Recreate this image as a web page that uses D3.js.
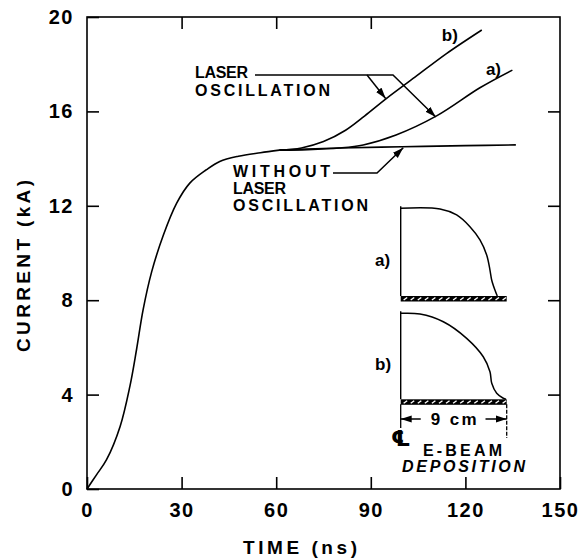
<!DOCTYPE html>
<meta charset="utf-8">
<body style="margin:0;background:#fff">
<script src="https://d3js.org/d3.v7.min.js"></script>
<script>

// main rise of the current, then the branch without laser oscillation
var riseTime    = [0, 3, 6.2, 10.5, 13.6, 15.7, 17.8, 20.5, 24.2, 28.4, 32.6, 37.9, 42.1, 48, 55, 61];
var riseCurrent = [0, 0.6, 1.24, 2.65, 4.35, 5.9, 7.6, 9.2, 10.75, 12.1, 12.96, 13.53, 13.88, 14.1, 14.25, 14.36];

var flatTime    = [61, 80, 100, 120, 136];
var flatCurrent = [14.36, 14.45, 14.5, 14.55, 14.58];

// with laser oscillation, cases a) and b)
var aTime    = [61, 70, 80, 87.6, 98, 111, 124.6, 134.9];
var aCurrent = [14.36, 14.38, 14.45, 14.58, 15.0, 15.82, 17.0, 17.75];

var bTime    = [61, 68, 75, 82, 88, 95, 104, 114, 125.2];
var bCurrent = [14.36, 14.45, 14.72, 15.2, 15.8, 16.55, 17.45, 18.45, 19.45];

// inset: e-beam deposition profiles vs radius (cm), normalised
var depA_r = [0, 3.34, 4.75, 5.88, 6.73, 7.3, 7.58, 7.73, 8.0, 8.2];
var depA_v = [1, 0.992, 0.924, 0.79, 0.639, 0.467, 0.296, 0.18, 0.068, 0];
var depB_r = [0, 1.64, 3.62, 5.6, 7.01, 7.58, 7.73, 8.15, 8.71, 8.94];
var depB_v = [1, 0.992, 0.902, 0.709, 0.495, 0.321, 0.186, 0.07, 0.012, 0];

var xTicks = [0, 30, 60, 90, 120, 150];
var yTicks = [0, 4, 8, 12, 16, 20];

var width = 581, height = 559;
var font = "'Liberation Sans', Arial, sans-serif";

var svg = d3.select("body").append("svg")
    .attr("width", width)
    .attr("height", height)
    .style("font-family", font);

var x = d3.scaleLinear().domain([0, 150]).range([87, 560]);
var y = d3.scaleLinear().domain([0, 20]).range([489, 17]);

// inset scales
var xr = d3.scaleLinear().domain([0, 9]).range([400.7, 506.7]);
var yA = d3.scaleLinear().domain([0, 1]).range([296, 208.3]);
var yB = d3.scaleLinear().domain([0, 1]).range([399.3, 313.3]);

svg.append("defs").append("marker")
    .attr("id", "arr")
    .attr("markerUnits", "userSpaceOnUse")
    .attr("markerWidth", 12).attr("markerHeight", 8)
    .attr("refX", 11).attr("refY", 4)
    .attr("orient", "auto")
  .append("path")
    .attr("d", "M0,0.5 L11,4 L0,7.5 Z")
    .attr("fill", "#000");

// frame
svg.append("rect")
    .attr("x", x(0)).attr("y", y(20))
    .attr("width", x(150) - x(0)).attr("height", y(0) - y(20))
    .attr("fill", "none").attr("stroke", "#000").attr("stroke-width", 1.6);

function styleAxis(g) {
  g.select(".domain").remove();
  g.selectAll("line").attr("stroke", "#000").attr("stroke-width", 1.6);
  g.selectAll("text").attr("font-family", font).attr("font-size", 20)
    .attr("font-weight", "bold").attr("fill", "#000")
    .style("letter-spacing", "1.5px");
}

svg.append("g").attr("transform", "translate(0," + y(0) + ")")
    .call(d3.axisBottom(x).tickValues(xTicks).tickSizeInner(-12).tickSizeOuter(0).tickPadding(14))
    .call(styleAxis);

svg.append("g").attr("transform", "translate(" + x(0) + ",0)")
    .call(d3.axisLeft(y).tickValues(yTicks).tickSizeInner(-12).tickSizeOuter(0).tickPadding(13))
    .call(styleAxis);

svg.append("g").attr("transform", "translate(0," + y(20) + ")")
    .call(d3.axisTop(x).tickValues([30, 60, 90]).tickSizeInner(-12).tickSizeOuter(0).tickFormat(""))
    .call(styleAxis);

svg.append("g").attr("transform", "translate(" + x(150) + ",0)")
    .call(d3.axisRight(y).tickValues([4, 8, 12, 16]).tickSizeInner(-12).tickSizeOuter(0).tickFormat(""))
    .call(styleAxis);

// axis titles
svg.append("text")
    .attr("x", 300).attr("y", 554)
    .attr("text-anchor", "middle")
    .attr("font-size", 19).attr("font-weight", "bold")
    .attr("textLength", 114).attr("lengthAdjust", "spacing")
    .text("TIME (ns)");

svg.append("text")
    .attr("transform", "translate(30,266) rotate(-90)")
    .attr("text-anchor", "middle")
    .attr("font-size", 19).attr("font-weight", "bold")
    .attr("textLength", 172).attr("lengthAdjust", "spacing")
    .text("CURRENT (kA)");

// curves
var line = d3.line()
    .x(function(d) { return x(d[0]); })
    .y(function(d) { return y(d[1]); })
    .curve(d3.curveCatmullRom.alpha(0.5));

function pairs(a, b) { return a.map(function(v, i) { return [v, b[i]]; }); }

[pairs(riseTime, riseCurrent), pairs(flatTime, flatCurrent),
 pairs(aTime, aCurrent), pairs(bTime, bCurrent)].forEach(function(s) {
  svg.append("path")
      .attr("d", line(s))
      .attr("fill", "none")
      .attr("stroke", "#000")
      .attr("stroke-width", 1.6);
});

// curve labels
function label(txt, px, py, size, len, style) {
  var t = svg.append("text")
      .attr("x", px).attr("y", py)
      .attr("font-size", size).attr("font-weight", "bold")
      .text(txt);
  if (len) t.attr("textLength", len).attr("lengthAdjust", "spacing");
  if (style) t.attr("font-style", style);
  return t;
}

label("b)", x(112.5), 41, 17);
label("a)", x(126.5), 75, 17);

// LASER OSCILLATION annotation
label("LASER", 195, 78, 16, 53);
label("OSCILLATION", 195, 96, 16, 135);

var lead = d3.line();
svg.append("path")
    .attr("d", lead([[255, 75], [393, 75], [x(110.6), y(15.76)]]))
    .attr("fill", "none").attr("stroke", "#000").attr("stroke-width", 1.5)
    .attr("marker-end", "url(#arr)");
svg.append("path")
    .attr("d", lead([[367, 75], [x(94.7), y(16.55)]]))
    .attr("fill", "none").attr("stroke", "#000").attr("stroke-width", 1.5)
    .attr("marker-end", "url(#arr)");

// WITHOUT LASER OSCILLATION annotation
label("WITHOUT", 233, 177, 16, 97);
label("LASER", 233, 194, 16, 53);
label("OSCILLATION", 233, 211, 16, 135);

svg.append("path")
    .attr("d", lead([[333, 173], [377, 173], [x(100.3), y(14.5) + 1]]))
    .attr("fill", "none").attr("stroke", "#000").attr("stroke-width", 1.5)
    .attr("marker-end", "url(#arr)");

// inset: deposition profiles
var insetLine = function(ys) {
  return d3.line()
      .x(function(d) { return xr(d[0]); })
      .y(function(d) { return ys(d[1]); })
      .curve(d3.curveCatmullRom.alpha(0.5));
};

function panel(ys, r, v, name) {
  // centre line
  svg.append("line")
      .attr("x1", xr(0)).attr("x2", xr(0))
      .attr("y1", ys(1) - 2).attr("y2", ys(0))
      .attr("stroke", "#000").attr("stroke-width", 1.4);
  svg.append("path")
      .attr("d", insetLine(ys)(pairs(r, v)))
      .attr("fill", "none").attr("stroke", "#000").attr("stroke-width", 1.5);
  // hatched bar
  svg.append("rect")
      .attr("x", xr(0)).attr("y", ys(0))
      .attr("width", xr(9) - xr(0)).attr("height", 5.5)
      .attr("fill", "#000");
  svg.append("g").selectAll("line")
    .data(d3.range(0.25, 8.8, 0.6))
    .enter().append("line")
      .attr("x1", function(d) { return xr(d); })
      .attr("x2", function(d) { return xr(d) + 3.5; })
      .attr("y1", ys(0) + 4)
      .attr("y2", ys(0) + 1.5)
      .attr("stroke", "#fff").attr("stroke-width", 1.4);
  label(name, 375, ys(0.4) + 5, 17);
}

panel(yA, depA_r, depA_v, "a)");
panel(yB, depB_r, depB_v, "b)");

// 9 cm dimension
svg.append("line")
    .attr("x1", xr(0)).attr("x2", xr(0)).attr("y1", yB(0) + 5).attr("y2", 428)
    .attr("stroke", "#000").attr("stroke-width", 1.3);
svg.append("line")
    .attr("x1", xr(9)).attr("x2", xr(9)).attr("y1", yB(0) + 5).attr("y2", 438)
    .attr("stroke", "#000").attr("stroke-width", 1.3).attr("stroke-dasharray", "4,1.5");
svg.append("line")
    .attr("x1", xr(1.7)).attr("x2", xr(0)).attr("y1", 419).attr("y2", 419)
    .attr("stroke", "#000").attr("stroke-width", 1.5).attr("marker-end", "url(#arr)");
svg.append("line")
    .attr("x1", xr(7.2)).attr("x2", xr(9)).attr("y1", 419).attr("y2", 419)
    .attr("stroke", "#000").attr("stroke-width", 1.5).attr("marker-end", "url(#arr)");
svg.append("text")
    .attr("x", xr(4.5)).attr("y", 425)
    .attr("text-anchor", "middle")
    .attr("font-size", 17).attr("font-weight", "bold")
    .attr("textLength", 46).attr("lengthAdjust", "spacing")
    .text("9 cm");

// centre-line symbol
svg.append("text").attr("x", 391).attr("y", 446)
    .attr("font-family", "'DejaVu Sans', sans-serif")
    .attr("font-size", 22).attr("font-weight", "bold").text("\u2104");

label("E-BEAM", 423, 456, 16, 79);
label("DEPOSITION", 402, 472, 16, 123, "italic");

</script>
</body>
